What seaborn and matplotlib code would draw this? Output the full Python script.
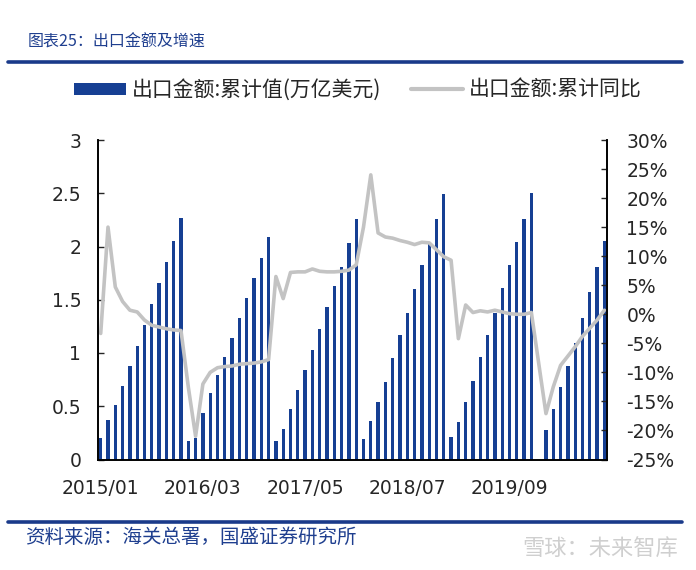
import numpy as np
import pandas as pd
import matplotlib
matplotlib.use("Agg")
import matplotlib.pyplot as plt
from matplotlib.patches import Patch
from matplotlib.lines import Line2D
from matplotlib.ticker import FuncFormatter, MultipleLocator
import seaborn as sns

# ---------------- data ----------------
months = [f"{y}/{m:02d}" for y in range(2015, 2021) for m in range(1, 13)][:70]

export_2015 = [0.20, 0.37, 0.51, 0.69, 0.88, 1.07, 1.26, 1.46, 1.66, 1.85, 2.05, 2.27]
export_2016 = [0.17, 0.20, 0.44, 0.62, 0.79, 0.96, 1.14, 1.33, 1.52, 1.70, 1.89, 2.09]
export_2017 = [0.17, 0.29, 0.47, 0.65, 0.84, 1.03, 1.23, 1.43, 1.63, 1.81, 2.03, 2.26]
export_2018 = [0.19, 0.36, 0.54, 0.73, 0.95, 1.17, 1.38, 1.60, 1.83, 2.02, 2.26, 2.49]
export_2019 = [0.21, 0.35, 0.54, 0.74, 0.96, 1.17, 1.38, 1.61, 1.83, 2.04, 2.26, 2.50]
export_2020 = [np.nan, 0.28, 0.47, 0.68, 0.88, 1.09, 1.33, 1.57, 1.81, 2.05]

yoy_2015 = [-3.3, 15.0, 4.7, 2.2, 0.7, 0.4, -1.0, -1.9, -2.2, -2.5, -2.7, -2.8]
yoy_2016 = [-12.5, -21.0, -12.0, -10.0, -9.2, -9.0, -8.9, -8.6, -8.5, -8.4, -8.2, -7.8]
yoy_2017 = [6.5, 2.7, 7.2, 7.3, 7.3, 7.8, 7.4, 7.3, 7.3, 7.4, 7.6, 8.5]
yoy_2018 = [15.0, 24.0, 14.0, 13.3, 13.1, 12.7, 12.4, 12.0, 12.4, 12.3, 11.1, 9.9]
yoy_2019 = [9.3, -4.2, 1.6, 0.3, 0.6, 0.4, 0.7, 0.4, 0.1, 0.0, 0.0, 0.3]
yoy_2020 = [np.nan, -17.1, -12.5, -8.8, -7.2, -5.6, -3.8, -2.4, -1.0, 0.7]

xtick_labels = ["2015/01", "2016/03", "2017/05", "2018/07", "2019/09"]

title = "图表25：出口金额及增速"
bar_label = "出口金额:累计值(万亿美元)"
line_label = "出口金额:累计同比"
source = "资料来源：海关总署，国盛证券研究所"
watermark = "雪球：未来智库"

export_vals = export_2015 + export_2016 + export_2017 + export_2018 + export_2019 + export_2020
yoy_vals = yoy_2015 + yoy_2016 + yoy_2017 + yoy_2018 + yoy_2019 + yoy_2020

df = pd.DataFrame({"month": months, "pos": np.arange(len(months)),
                   "export": export_vals, "yoy": yoy_vals})

# ---------------- style ----------------
sns.set_style("white")
plt.rcParams["font.family"] = ["DejaVu Sans", "Noto Sans CJK SC"]
cjk = ["Noto Sans CJK SC", "DejaVu Sans"]

bar_color = "#163F93"
line_color = "#C3C3C3"
rule_color = "#1A3A8A"

fig = plt.figure(figsize=(6.96, 5.70), dpi=100)
ax = fig.add_axes([98 / 696, 1 - 459.5 / 570, (607 - 98) / 696, (459.5 - 140) / 570])

sns.barplot(data=df, x="month", y="export", order=months, color=bar_color,
            width=0.45, errorbar=None, saturation=1, linewidth=0, ax=ax)

ax2 = ax.twinx()
line_df = df.dropna(subset=["yoy"])
sns.lineplot(data=line_df, x="pos", y="yoy", color=line_color, linewidth=2.6,
             ax=ax2, sort=False)

# axes limits/ticks
ax.set_xlim(-0.37, 69.36)
ax.set_ylim(0, 3)
ax2.set_ylim(-25, 30)
ax.yaxis.set_major_locator(MultipleLocator(0.5))
ax2.yaxis.set_major_locator(MultipleLocator(5))
ax.yaxis.set_major_formatter(FuncFormatter(lambda v, p: f"{v:g}"))
ax2.yaxis.set_major_formatter(FuncFormatter(lambda v, p: f"{v:.0f}%"))

tick_pos = [months.index(t) for t in xtick_labels]
ax.set_xticks(tick_pos)
ax.set_xticklabels(xtick_labels)
ax.set_xlabel("")
ax.set_ylabel("")
ax2.set_xlabel("")
ax2.set_ylabel("")

for a in (ax, ax2):
    for s in a.spines.values():
        s.set_color("black")
        s.set_linewidth(1.2)
    a.spines["top"].set_visible(False)
    a.grid(False)
    a.set_facecolor("none")

ax.tick_params(axis="y", direction="in", length=4, width=1, labelsize=13.5, pad=12)
ax2.tick_params(axis="y", direction="in", length=4, width=1, labelsize=13.5, pad=14)
ax.tick_params(axis="x", length=0, labelsize=13.5, pad=14)

# legend
handles = [Patch(facecolor=bar_color, edgecolor="none"),
           Line2D([], [], color=line_color, linewidth=3)]
fig.legend(handles, [bar_label, line_label], loc="center",
           bbox_to_anchor=(358 / 696, 1 - 90 / 570), ncol=2, frameon=False,
           prop={"family": cjk, "size": 15}, handlelength=2.5,
           handleheight=0.5, handletextpad=0.3, columnspacing=1.4)

# title and rules
fig.text(28 / 696, 1 - 42 / 570, title, ha="left", va="center", color="#1F3F8F",
         fontsize=11.5, family=cjk, style="italic")
fig.add_artist(Line2D([8 / 696, 682 / 696], [1 - 62 / 570] * 2,
                      transform=fig.transFigure, color=rule_color, linewidth=2.6))
fig.add_artist(Line2D([8 / 696, 682 / 696], [1 - 522 / 570] * 2,
                      transform=fig.transFigure, color=rule_color, linewidth=2.6))
fig.text(25 / 696, 1 - 537 / 570, source, ha="left", va="center", color="#1F3F8F",
         fontsize=14, family=cjk, style="italic")
fig.text(678 / 696, 1 - 549 / 570, watermark, ha="right", va="center", color="#CFCFCF",
         fontsize=16, family=cjk)

fig.savefig("out.png", dpi=100, facecolor="white")
